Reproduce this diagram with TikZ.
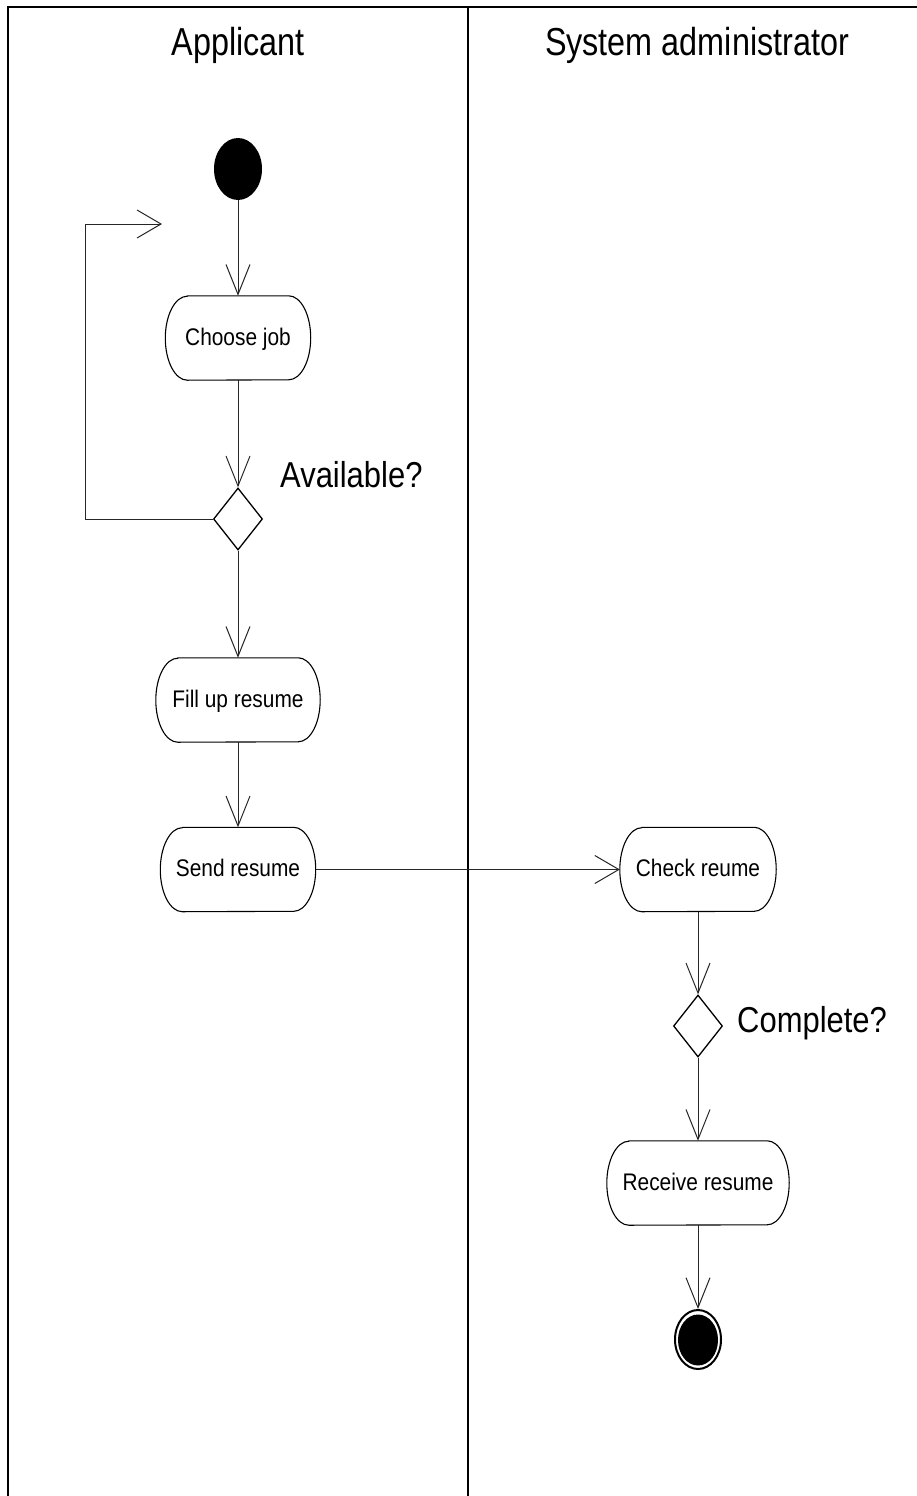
\documentclass[tikz,border=0pt]{standalone}
\usepackage{fontspec}
\setmainfont{Liberation Sans}
\newfontfamily\hdfont[FakeStretch=0.83]{Liberation Sans}
\newfontfamily\actfont[FakeStretch=0.87]{Liberation Sans}
\newfontfamily\qfont[FakeStretch=0.86]{Liberation Sans}
\usetikzlibrary{arrows.meta,shapes.geometric}

\tikzset{
  lane/.style={line width=2pt, line cap=rect},
  actbody/.style={rectangle, draw=none, inner sep=0pt},
  actline/.style={draw=black, line width=1.1pt},
  acttext/.style={font=\actfont\fontsize{24}{24}\selectfont, inner sep=0pt, anchor=base},
  hdtext/.style={font=\hdfont\fontsize{39}{39}\selectfont, inner sep=0pt, anchor=base},
  qtext/.style={font=\qfont\fontsize{36}{36}\selectfont, inner sep=0pt, anchor=base west},
  decision/.style={diamond, draw=black, line width=1.3pt, fill=white, inner sep=0pt,
    minimum width=49pt, minimum height=62pt},
  startdot/.style={ellipse, fill=black, inner sep=0pt, minimum width=48pt, minimum height=62pt},
  endring/.style={ellipse, draw=black, line width=2pt, fill=white, inner sep=0pt,
    minimum width=46pt, minimum height=59pt},
  enddot/.style={ellipse, fill=black, inner sep=0pt, minimum width=40pt, minimum height=51pt},
  flowv/.style={draw=black!85, line width=1pt,
    -{Straight Barb[length=30pt, width=24pt, line width=1pt]}},
  flowh/.style={draw=black!85, line width=1pt,
    -{Straight Barb[length=24pt, width=28pt, line width=1pt]}},
  link/.style={draw=black!85, line width=1pt},
}

% activity: name, x, y, width, height, label
\newcommand\actbox[6]{%
  \node[actbody, minimum width=#4pt, minimum height=#5pt] (#1) at (#2,#3) {};
  \draw[actline] ([xshift=22pt]#1.north west) -- ([xshift=-22pt]#1.north east)
    arc[start angle=90, end angle=-90, x radius=22pt, y radius=#5pt/2]
    -- ([xshift=22pt]#1.south west)
    arc[start angle=270, end angle=90, x radius=22pt, y radius=#5pt/2] -- cycle;
  \node[acttext] (#1-label) at ([yshift=-7pt]#1.center) {#6};
}

\begin{document}
\begin{tikzpicture}[x=1pt, y=-1pt]
  \useasboundingbox (0,0) rectangle (917,1496);

  % swimlane frame
  \draw[lane] (8,1496) -- (8,7) -- (917,7);
  \draw[lane] (468,7) -- (468,1496);

  % lane headers
  \node[hdtext] (hd-applicant) at (238,56) {Applicant};
  \node[hdtext] (hd-admin) at (697,56) {System administrator};

  % applicant lane
  \node[startdot] (start) at (238,169) {};
  \actbox{choose}{238}{338}{145}{84}{Choose job}
  \node[decision] (avail) at (238,519) {};
  \node[qtext] (avail-q) at (280,487) {Available?};
  \actbox{fill}{238}{700}{164}{84}{Fill up resume}
  \actbox{send}{238}{869.5}{155}{84}{Send resume}

  % administrator lane
  \actbox{check}{698}{869.5}{156}{84}{Check reume}
  \node[decision] (complete) at (698,1026) {};
  \node[qtext] (complete-q) at (737,1032) {Complete?};
  \actbox{receive}{698}{1183}{182}{84}{Receive resume}
  \node[endring] (finish) at (698,1339.5) {};
  \node[enddot] (finish-dot) at (698,1340) {};

  % control flow
  \coordinate (loop-corner) at (85,224);
  \coordinate (loop-end) at (162,224);
  \draw[flowv] (start.south) -- (choose.north);
  \draw[flowv] (choose.south) -- (avail.north);
  \draw[link] (avail.west) -| (loop-corner);
  \draw[flowh] (loop-corner) -- (loop-end);
  \draw[flowv] (avail.south) -- (fill.north);
  \draw[flowv] (fill.south) -- (send.north);
  \draw[flowh] (send.east) -- (check.west);
  \draw[flowv] (check.south) -- (complete.north);
  \draw[flowv] (complete.south) -- (receive.north);
  \draw[flowv] (receive.south) -- (finish.north);
\end{tikzpicture}
\end{document}
